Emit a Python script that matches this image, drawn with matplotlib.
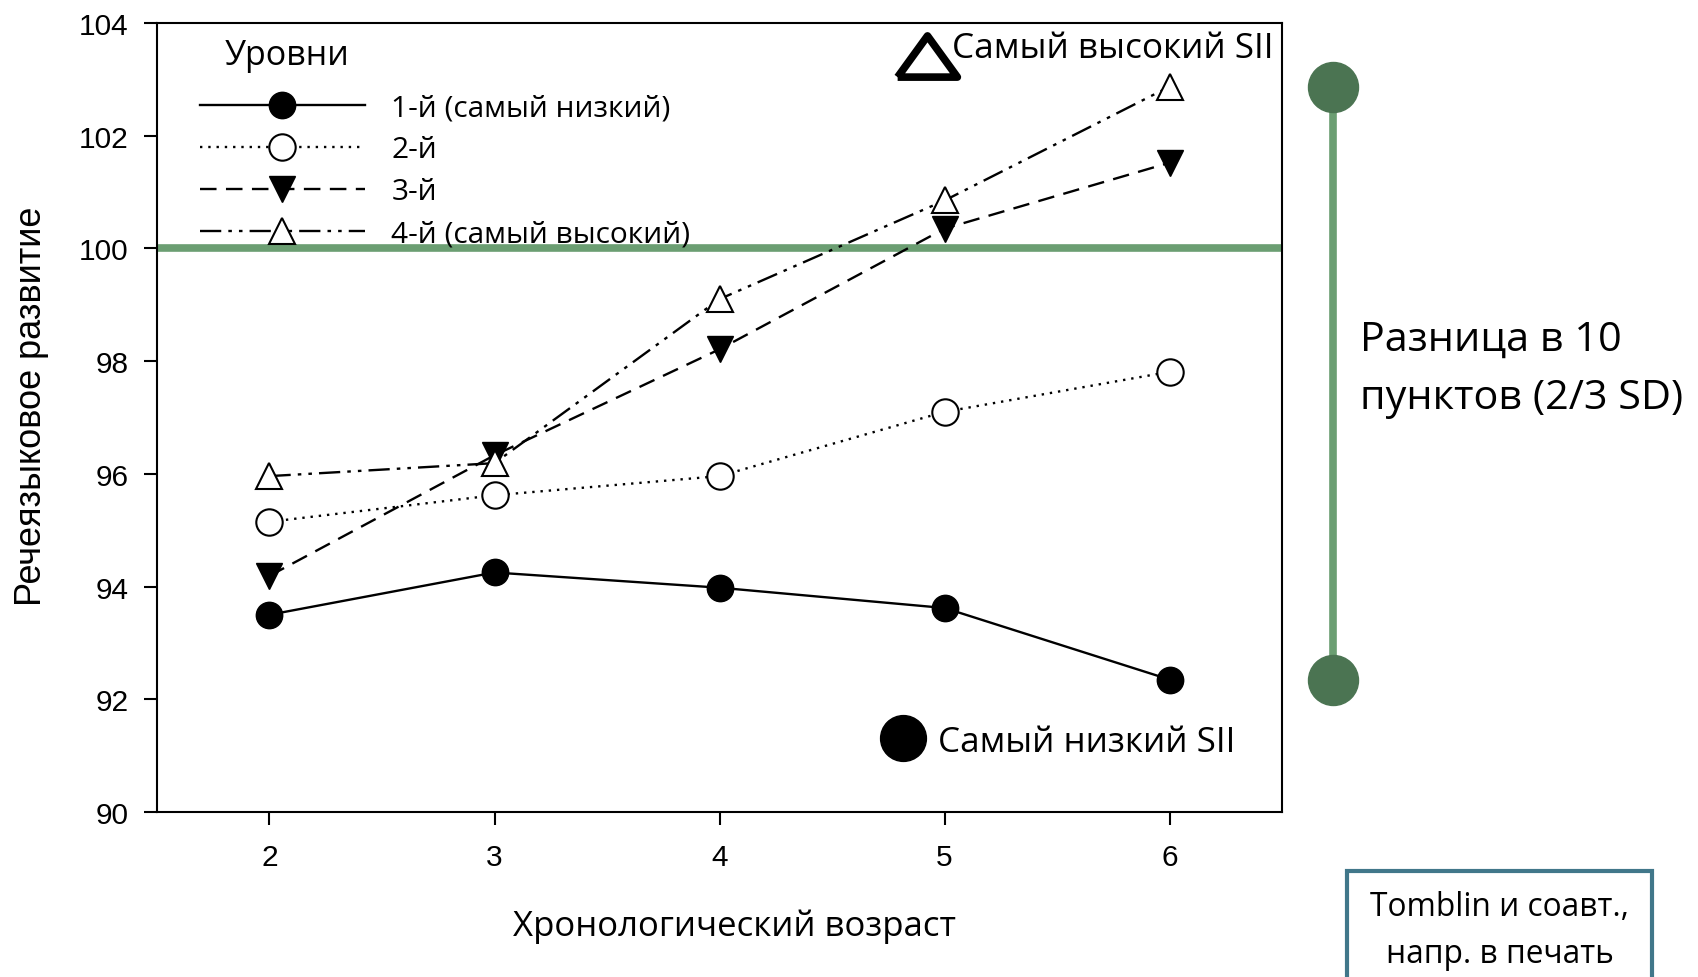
import matplotlib.pyplot as plt
from matplotlib.patches import Rectangle

plt.rcParams['font.family'] = ['Open Sans', 'DejaVu Sans']

# Возраст (годы) и средние значения по уровням
ages = [2, 3, 4, 5, 6]
level1 = [93.5, 94.25, 93.98, 93.62, 92.35]
level2 = [95.15, 95.62, 95.96, 97.1, 97.81]
level3 = [94.19, 96.33, 98.21, 100.35, 101.52]
level4 = [95.96, 96.19, 99.1, 100.85, 102.87]
labels = ['1-й (самый низкий)', '2-й', '3-й', '4-й (самый высокий)']
norm_value = 100

green = '#6b9e72'
dark_green = '#4b7452'

fig = plt.figure(figsize=(16.99, 9.78), dpi=100)
ax = fig.add_axes([0.0924, 0.1687, 0.6622, 0.8068])

ax.axhline(norm_value, color=green, lw=5.5, zorder=1)

ax.plot(ages, level1, '-', color='black', lw=1.7, marker='o', ms=19,
        mfc='black', mec='black', label=labels[0], zorder=3)
ax.plot(ages, level2, color='black', lw=1.7, ls=(0, (1, 2.5)), marker='o', ms=19,
        mfc='white', mec='black', mew=1.5, label=labels[1], zorder=3)
ax.plot(ages, level3, color='black', lw=1.7, ls=(0, (7, 4)), marker='v', ms=19,
        mfc='black', mec='black', label=labels[2], zorder=3)
ax.plot(ages, level4, color='black', lw=1.7, ls=(0, (9, 3, 1.5, 3, 1.5, 3)), marker='^', ms=19,
        mfc='white', mec='black', mew=1.5, label=labels[3], zorder=3)

ax.set_xlim(1.5, 6.5)
ax.set_ylim(90, 104)
ax.set_xticks(ages)
ax.set_yticks(range(90, 105, 2))

for s in ax.spines.values():
    s.set_linewidth(1.5)
ax.tick_params(axis='both', direction='out', length=9.5, width=1.5, labelsize=21.5, pad=11)
ax.tick_params(axis='x', pad=13)
for t in ax.get_xticklabels() + ax.get_yticklabels():
    t.set_fontfamily(['Liberation Sans', 'DejaVu Sans'])

ax.set_xlabel('Хронологический возраст', fontsize=25)
ax.xaxis.set_label_coords(0.5135, -0.122)
ax.set_ylabel('Речеязыковое развитие', fontsize=26,
              family=['Liberation Sans Narrow', 'Liberation Sans', 'DejaVu Sans'])
ax.yaxis.set_label_coords(-0.096, 0.515)

# легенда уровней
ax.text(0.06, 0.96, 'Уровни', transform=ax.transAxes, fontsize=24.5, va='center', ha='left')
leg = ax.legend(loc='upper left', bbox_to_anchor=(0.0385, 0.911), frameon=False,
                fontsize=21.5, handlelength=5.5, handletextpad=0.9, labelspacing=0.44,
                borderaxespad=0, borderpad=0)

# пояснения к крайним уровням
wide_tri = [(-1.0, -0.69), (1.0, -0.69), (0.0, 0.69), (-1.0, -0.69)]
ax.plot([0.684], [0.958], marker=wide_tri, ms=43, mfc='white', mec='black', mew=5.5,
        transform=ax.transAxes, clip_on=False, zorder=4)
ax.text(0.707, 0.968, 'Самый высокий SII', transform=ax.transAxes, fontsize=25.3,
        va='center', ha='left')
ax.plot([0.663], [0.0934], marker='o', ms=33, mfc='black', mec='black',
        transform=ax.transAxes, clip_on=False, zorder=4)
ax.text(0.694, 0.089, 'Самый низкий SII', transform=ax.transAxes, fontsize=25.2,
        va='center', ha='left')

# скобка разницы между крайними уровнями
span_x = 6.726
top, bottom = max(level4), min(level1)
ax.plot([span_x, span_x], [bottom, top], color=green, lw=5.5, clip_on=False,
        solid_capstyle='butt', zorder=2)
ax.plot([span_x, span_x], [bottom, top], 'o', ms=36, color=dark_green, clip_on=False, zorder=3)

fig.text(0.8005, 0.622, 'Разница в 10\nпунктов (2/3 SD)', fontsize=29.8, va='center',
         ha='left', linespacing=1.56)

fig.patches.append(Rectangle((0.7928, -0.05), 0.1795, 0.1584, transform=fig.transFigure,
                             fill=False, edgecolor='#41778a', lw=3))
fig.text(0.8826, 0.0484, 'Tomblin и соавт.,\nнапр. в печать', fontsize=22.8, va='center',
         ha='center', linespacing=1.55)

fig.savefig('out.png', dpi=100)
